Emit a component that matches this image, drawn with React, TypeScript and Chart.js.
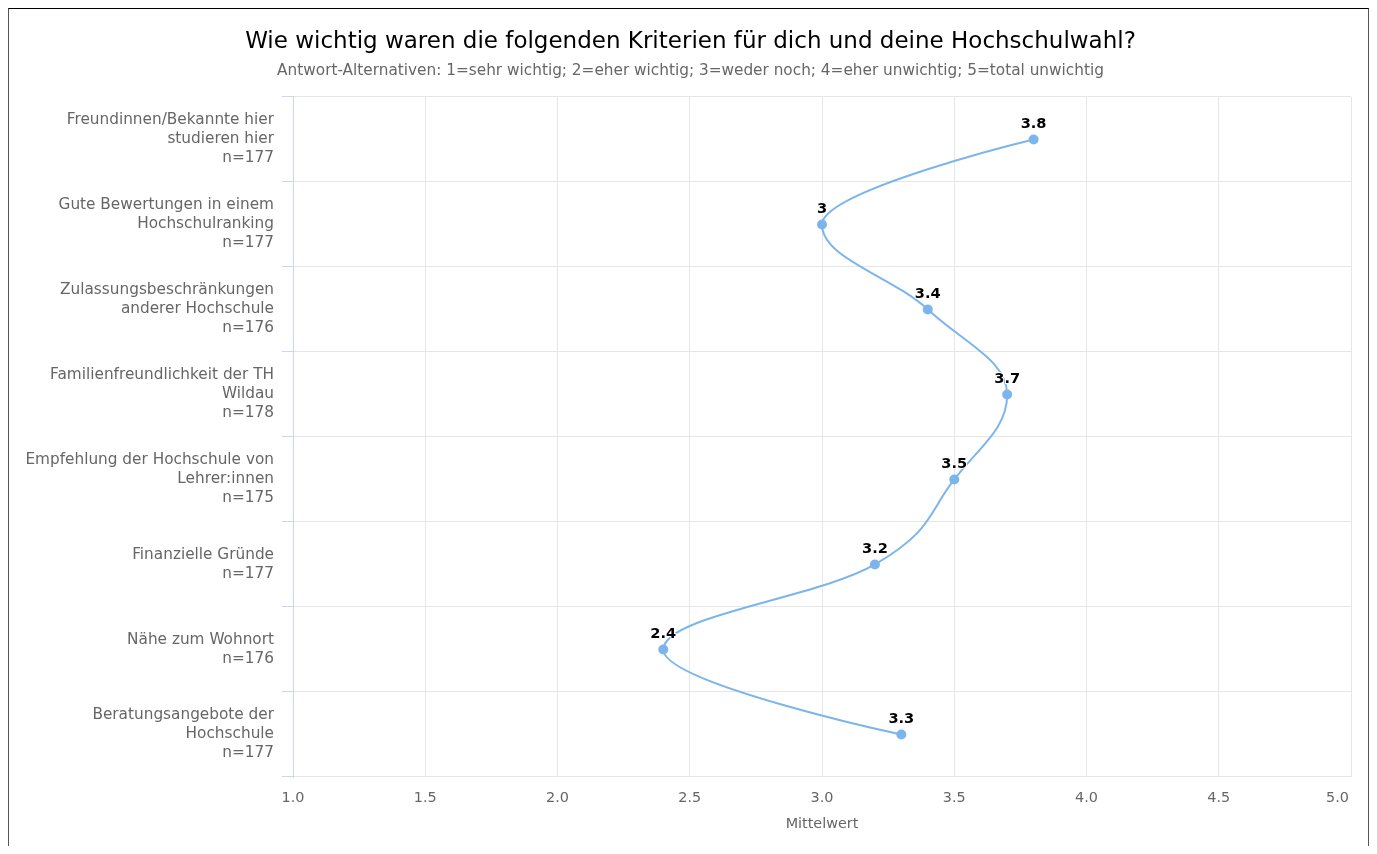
import React, { useEffect, useRef } from 'react';
import { Chart, registerables } from 'chart.js';

Chart.register(...registerables);

const FONT = "'DejaVu Sans', Verdana, sans-serif";

const titleText = 'Wie wichtig waren die folgenden Kriterien für dich und deine Hochschulwahl?';
const subtitleText =
  'Antwort-Alternativen: 1=sehr wichtig; 2=eher wichtig; 3=weder noch; 4=eher unwichtig; 5=total unwichtig';
const axisTitle = 'Mittelwert';

const categories: string[][] = [
  ['Freundinnen/Bekannte hier', 'studieren hier', 'n=177'],
  ['Gute Bewertungen in einem', 'Hochschulranking', 'n=177'],
  ['Zulassungsbeschränkungen', 'anderer Hochschule', 'n=176'],
  ['Familienfreundlichkeit der TH', 'Wildau', 'n=178'],
  ['Empfehlung der Hochschule von', 'Lehrer:innen', 'n=175'],
  ['Finanzielle Gründe', 'n=177'],
  ['Nähe zum Wohnort', 'n=176'],
  ['Beratungsangebote der', 'Hochschule', 'n=177'],
];

const values: number[] = [3.8, 3, 3.4, 3.7, 3.5, 3.2, 2.4, 3.3];

const xMin = 1;
const xMax = 5;
const xStep = 0.5;

// Highcharts-style spline control points (smoothing 1.5), computed in the
// category direction (pixel y) vs value direction (pixel x).
const hcSplinePlugin = {
  id: 'hcSpline',
  beforeDatasetDraw(chart: any, args: any) {
    const meta = chart.getDatasetMeta(args.index);
    const pts = meta.data as any[];
    const n = pts.length;
    const sm = 1.5;
    const den = sm + 1;
    for (let i = 0; i < n; i++) {
      const p = pts[i];
      p.cp1x = p.x; p.cp1y = p.y; p.cp2x = p.x; p.cp2y = p.y;
    }
    for (let i = 1; i < n - 1; i++) {
      const p = pts[i], l = pts[i - 1], r = pts[i + 1];
      const pX = p.y, pY = p.x, lX = l.y, lY = l.x, nX = r.y, nY = r.x;
      const lcX = (sm * pX + lX) / den;
      let lcY = (sm * pY + lY) / den;
      const rcX = (sm * pX + nX) / den;
      let rcY = (sm * pY + nY) / den;
      let corr = 0;
      if (rcX !== lcX) corr = ((rcY - lcY) * (rcX - pX)) / (rcX - lcX) + pY - rcY;
      lcY += corr;
      rcY += corr;
      if (lcY > lY && lcY > pY) {
        lcY = Math.max(lY, pY);
        rcY = 2 * pY - lcY;
      } else if (lcY < lY && lcY < pY) {
        lcY = Math.min(lY, pY);
        rcY = 2 * pY - lcY;
      }
      if (rcY > nY && rcY > pY) {
        rcY = Math.max(nY, pY);
        lcY = 2 * pY - rcY;
      } else if (rcY < nY && rcY < pY) {
        rcY = Math.min(nY, pY);
        lcY = 2 * pY - rcY;
      }
      p.cp1x = lcY; p.cp1y = lcX;
      p.cp2x = rcY; p.cp2y = rcX;
    }
    if (meta.dataset) {
      meta.dataset._pointsUpdated = true;
      meta.dataset._path = undefined;
    }
  },
};

// let the category labels use the space left of the axis box (no clipping)
const labelAreaPlugin = {
  id: 'labelArea',
  beforeDraw(chart: any) {
    const y = chart.scales.y;
    if (y) y.left = 0;
  },
};

const dataLabelPlugin = {
  id: 'dataLabels',
  afterDatasetsDraw(chart: any) {
    const ctx = chart.ctx;
    const meta = chart.getDatasetMeta(0);
    ctx.save();
    ctx.font = `bold 14.6px ${FONT}`;
    ctx.textAlign = 'center';
    ctx.textBaseline = 'middle';
    ctx.lineJoin = 'round';
    meta.data.forEach((p: any, i: number) => {
      const txt = String(values[i]);
      ctx.strokeStyle = '#ffffff';
      ctx.lineWidth = 2;
      ctx.strokeText(txt, p.x, p.y - 15);
      ctx.fillStyle = '#000000';
      ctx.fillText(txt, p.x, p.y - 15);
    });
    ctx.restore();
  },
};

const xLabelPlugin = {
  id: 'xLabels',
  afterDraw(chart: any) {
    const scale = chart.scales.x;
    const area = chart.chartArea;
    const ctx = chart.ctx;
    ctx.save();
    ctx.font = `14.4px ${FONT}`;
    ctx.fillStyle = '#666666';
    ctx.textAlign = 'center';
    ctx.textBaseline = 'middle';
    scale.ticks.forEach((t: any) => {
      const txt = Number(t.value).toFixed(1);
      const w = ctx.measureText(txt).width;
      let cx = scale.getPixelForValue(t.value);
      if (cx + w / 2 > area.right - 2) cx = area.right - 2 - w / 2;
      ctx.fillText(txt, cx, area.bottom + 21);
    });
    ctx.restore();
  },
};

function LineChart() {
  const ref = useRef<HTMLCanvasElement | null>(null);
  useEffect(() => {
    if (!ref.current) return;
    const chart = new Chart(ref.current, {
      type: 'line',
      data: {
        labels: categories as any,
        datasets: [
          {
            data: values,
            borderColor: '#7cb5ec',
            backgroundColor: '#7cb5ec',
            borderWidth: 2,
            pointRadius: 5,
            pointBorderWidth: 0,
            pointBackgroundColor: '#7cb5ec',
            tension: 0.4,
            fill: false,
          },
        ],
      },
      options: {
        indexAxis: 'y',
        animation: false,
        responsive: true,
        maintainAspectRatio: false,
        layout: { padding: { left: 21, right: 17, top: 0, bottom: 0 } },
        plugins: {
          legend: { display: false },
          tooltip: { enabled: false },
          title: {
            display: true,
            text: titleText,
            color: '#000000',
            font: { family: FONT, size: 23, weight: 'normal', lineHeight: 1.2 },
            padding: { top: 19, bottom: 6 },
          },
          subtitle: {
            display: true,
            text: subtitleText,
            color: '#666666',
            font: { family: FONT, size: 15.3, lineHeight: 1.2 },
            padding: { top: 0, bottom: 17 },
          },
        },
        scales: {
          y: {
            type: 'category',
            position: 'left',
            offset: true,
            grid: {
              offset: true,
              color: '#e6e6e6',
              tickColor: '#ccd6eb',
              tickLength: 11,
              lineWidth: 1,
            },
            border: { display: true, color: '#ccd6eb', width: 1 },
            ticks: {
              color: '#666666',
              font: { family: FONT, size: 15.3, lineHeight: '19px' as any },
              padding: 8,
              autoSkip: false,
            },
            afterFit(scale: any) {
              scale.width = 263;
            },
          },
          x: {
            type: 'linear',
            position: 'bottom',
            min: xMin,
            max: xMax,
            ticks: { stepSize: xStep, display: false },
            grid: {
              color: (c: any) => (c.tick && c.tick.value === xMin ? '#ccd6eb' : '#e6e6e6'),
              drawTicks: false,
              lineWidth: 1,
            },
            border: { display: false },
            title: {
              display: true,
              text: axisTitle,
              color: '#666666',
              font: { family: FONT, size: 14.4, lineHeight: 1.2 },
              padding: { top: 0, bottom: 13 },
            },
            afterFit(scale: any) {
              scale.height = 69;
            },
          },
        },
      },
      plugins: [hcSplinePlugin, labelAreaPlugin, dataLabelPlugin, xLabelPlugin],
    } as any);
    return () => chart.destroy();
  }, []);

  return (
    <div style={{ position: 'relative', width: 1359, height: 837 }}>
      <canvas ref={ref} />
    </div>
  );
}

export default function App() {
  return (
    <div
      style={{
        boxSizing: 'border-box',
        width: 1361,
        height: 838,
        borderTop: '1px solid #000',
        borderLeft: '1px solid #555',
        borderRight: '1px solid #555',
        background: '#fff',
        fontFamily: FONT,
      }}
    >
      <LineChart />
    </div>
  );
}
